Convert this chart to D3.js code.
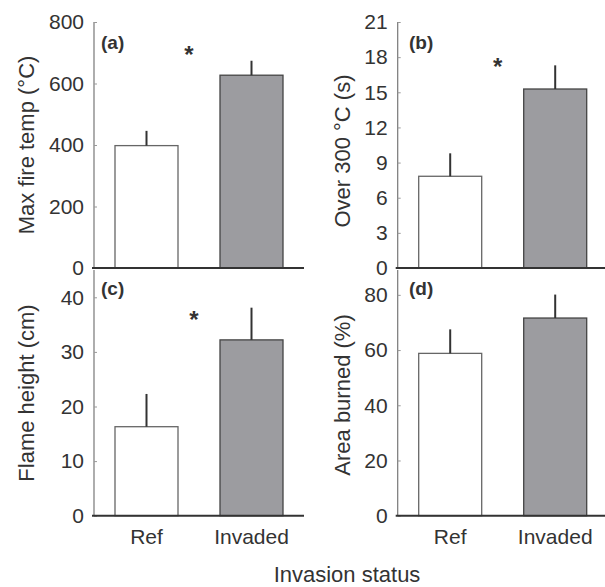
<!DOCTYPE html>
<html><head><meta charset="utf-8">
<script src="https://cdn.jsdelivr.net/npm/d3@7"></script>
<style>body{margin:0;background:#fff}svg{display:block}text{font-family:"Liberation Sans",Arial,sans-serif;fill:#333}</style>
</head><body><svg id="c" width="605" height="587"></svg>
<script>
const categories = ["Ref", "Invaded"];
const panelLabels = ["(a)", "(b)", "(c)", "(d)"];
const yTitles = ["Max fire temp (°C)", "Over 300 °C (s)", "Flame height (cm)", "Area burned (%)"];
const meansA = [398, 627], errA = [446, 674];
const meansB = [7.83, 15.28], errB = [9.79, 17.3];
const meansC = [16.3, 32.2], errC = [22.3, 38.1];
const meansD = [58.8, 71.6], errD = [67.5, 80.1];
const ticksA = [0, 200, 400, 600, 800];
const ticksB = [0, 3, 6, 9, 12, 15, 18, 21];
const ticksC = [0, 10, 20, 30, 40];
const ticksD = [0, 20, 40, 60, 80];
const domainTops = [800, 21, 45, 89];
const significant = [true, true, true, false];
const xTitle = "Invasion status";

const panels = [
  {means: meansA, errs: errA, ticks: ticksA, ax: 94, top: 22, bot: 268, star: [189, 63], lab: [101, 49], ty: 26.5, tyc: 145, showX: false},
  {means: meansB, errs: errB, ticks: ticksB, ax: 397.7, top: 22, bot: 268, star: [497.7, 75], lab: [409, 49], ty: 342, tyc: 151, showX: false},
  {means: meansC, errs: errC, ticks: ticksC, ax: 94, top: 270, bot: 515.7, star: [194, 328], lab: [101, 295], ty: 26.5, tyc: 393, showX: true},
  {means: meansD, errs: errD, ticks: ticksD, ax: 397.7, top: 270, bot: 515.7, star: null, lab: [409, 295], ty: 342, tyc: 395, showX: true}
];

const svg = d3.select("#c");
panels.forEach((p, i) => {
  const y = d3.scaleLinear().domain([0, domainTops[i]]).range([p.bot, p.top]);
  const x = d3.scaleBand().domain(categories).range([p.ax, p.ax + 210]).paddingInner(0.4).paddingOuter(0.2);
  const g = svg.append("g");
  const yAxis = d3.axisLeft(y).tickValues(p.ticks).tickSize(-3).tickPadding(10);
  const ag = g.append("g").attr("transform", `translate(${p.ax},0)`).call(yAxis);
  ag.select(".domain").attr("stroke", "#777").attr("stroke-width", 1.2).attr("d", `M0,${p.top}V${p.bot}`);
  ag.selectAll(".tick line").attr("stroke", "#999");
  ag.selectAll(".tick text").attr("font-size", 21).attr("fill", "#333").style("font-family", '"Liberation Sans",Arial,sans-serif');
  g.selectAll("rect.bar").data(p.means).join("rect")
    .attr("x", (d, j) => x(categories[j]))
    .attr("y", d => y(d))
    .attr("width", x.bandwidth())
    .attr("height", d => y(0) - y(d))
    .attr("fill", (d, j) => j === 0 ? "#fff" : "#9c9ca0")
    .attr("stroke", (d, j) => j === 0 ? "#666" : "#444")
    .attr("stroke-width", 1.3);
  g.selectAll("line.err").data(p.errs).join("line")
    .attr("x1", (d, j) => x(categories[j]) + x.bandwidth() / 2)
    .attr("x2", (d, j) => x(categories[j]) + x.bandwidth() / 2)
    .attr("y1", (d, j) => y(p.means[j]))
    .attr("y2", d => y(d))
    .attr("stroke", "#333").attr("stroke-width", 2);
  g.append("line").attr("x1", p.ax - 2).attr("x2", p.ax + 210).attr("y1", y(0)).attr("y2", y(0))
    .attr("stroke", "#333").attr("stroke-width", 2);
  g.append("text").attr("x", p.lab[0]).attr("y", p.lab[1]).attr("font-size", 19).attr("font-weight", "bold").attr("fill", "#222").text(panelLabels[i]);
  if (significant[i]) {
    g.append("text").attr("x", p.star[0]).attr("y", p.star[1]).attr("text-anchor", "middle").attr("font-size", 24).attr("font-weight", "bold").attr("fill", "#222").text("*");
  }
  g.append("text").attr("transform", `translate(${p.ty},${p.tyc}) rotate(-90)`).attr("text-anchor", "middle")
    .attr("dominant-baseline", "central").attr("font-size", 22).text(yTitles[i]);
  if (p.showX) {
    categories.forEach(c => {
      g.append("text").attr("x", x(c) + x.bandwidth() / 2).attr("y", 544).attr("text-anchor", "middle").attr("font-size", 21).text(c);
    });
  }
});
svg.append("text").attr("x", 347).attr("y", 582).attr("text-anchor", "middle").attr("font-size", 22).text(xTitle);
</script></body></html>
